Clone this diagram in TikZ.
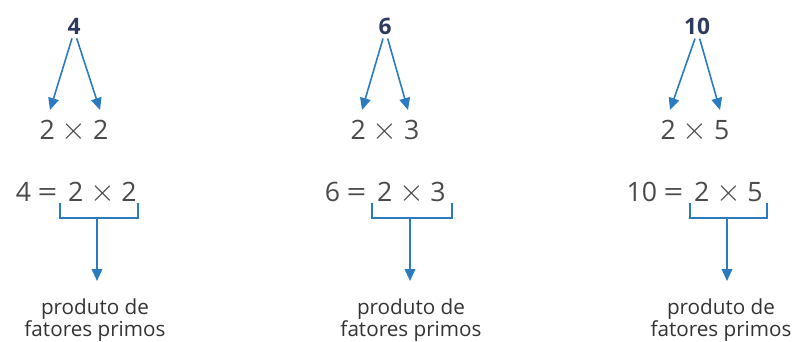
\documentclass[tikz,border=0pt]{standalone}
\usepackage{fontspec}
\setmainfont{Open Sans}
\usetikzlibrary{arrows.meta}
\definecolor{arrowblue}{HTML}{2B7BC0}
\definecolor{navy}{HTML}{2C3A5E}
\definecolor{numgray}{HTML}{4A4A4A}
\definecolor{labgray}{HTML}{333333}
\newcommand\gx{\hspace{5pt}}
\newcommand\tms{\scalebox{1.15}{$\times$}}
\newcommand\eqs{\hspace{5pt}\scalebox{1.3}[1]{=}\hspace{8pt}}
\begin{document}
\begin{tikzpicture}[x=0.75pt,y=-0.75pt,
  topnum/.style={font=\fontsize{17}{18}\selectfont\bfseries, text=navy, inner sep=0},
  prod/.style={font=\fontsize{20}{22}\selectfont, text=numgray, inner sep=0},
  lab/.style={font=\fontsize{15.5}{16}\selectfont, text=labgray, align=center, inner sep=0},
  arr/.style={draw=arrowblue, line width=1.2pt, -{Triangle[length=9pt,width=8pt]}},
  brk/.style={draw=arrowblue, line width=1.2pt}]
\useasboundingbox (0,0) rectangle (798,342);
% panel 1
\node[topnum] (n1) at (74,26) {4};
\coordinate (t1l) at (50,110); \coordinate (t1r) at (100,110);
\draw[arr] ([xshift=-1.5pt,yshift=-3pt]n1.south) -- (t1l);
\draw[arr] ([xshift=2pt,yshift=-3pt]n1.south) -- (t1r);
\node[prod] (p1) at (74,131) {2\gx\tms\gx2};
\node[prod, anchor=east] (e1) at (137,193) {4\eqs2\gx\tms\gx2};
\draw[brk] (60,203) -- (60,218) -- (138,218) -- (138,203);
\coordinate (b1) at (97,218);
\node[lab] (l1) at (95,320) {produto de\\fatores primos};
\draw[arr] (b1) -- (97,281);
% panel 2
\node[topnum] (n2) at (385,26) {6};
\coordinate (t2l) at (362,110); \coordinate (t2r) at (408,110);
\draw[arr] ([xshift=-1.5pt,yshift=-3pt]n2.south) -- (t2l);
\draw[arr] ([xshift=2pt,yshift=-3pt]n2.south) -- (t2r);
\node[prod] (p2) at (385,131) {2\gx\tms\gx3};
\node[prod, anchor=east] (e2) at (446,193) {6\eqs2\gx\tms\gx3};
\draw[brk] (372,203) -- (372,218) -- (452,218) -- (452,203);
\coordinate (b2) at (410,218);
\node[lab] (l2) at (411,320) {produto de\\fatores primos};
\draw[arr] (b2) -- (410,281);
% panel 3
\node[topnum] (n3) at (697,26) {10};
\coordinate (t3l) at (670,110); \coordinate (t3r) at (720,110);
\draw[arr] ([xshift=-1.5pt,yshift=-3pt]n3.south) -- (t3l);
\draw[arr] ([xshift=2pt,yshift=-3pt]n3.south) -- (t3r);
\node[prod] (p3) at (695,131) {2\gx\tms\gx5};
\node[prod, anchor=east] (e3) at (763,193) {10\eqs2\gx\tms\gx5};
\draw[brk] (690,203) -- (690,218) -- (767,218) -- (767,203);
\coordinate (b3) at (727,218);
\node[lab] (l3) at (721,320) {produto de\\fatores primos};
\draw[arr] (b3) -- (727,281);
\end{tikzpicture}
\end{document}
